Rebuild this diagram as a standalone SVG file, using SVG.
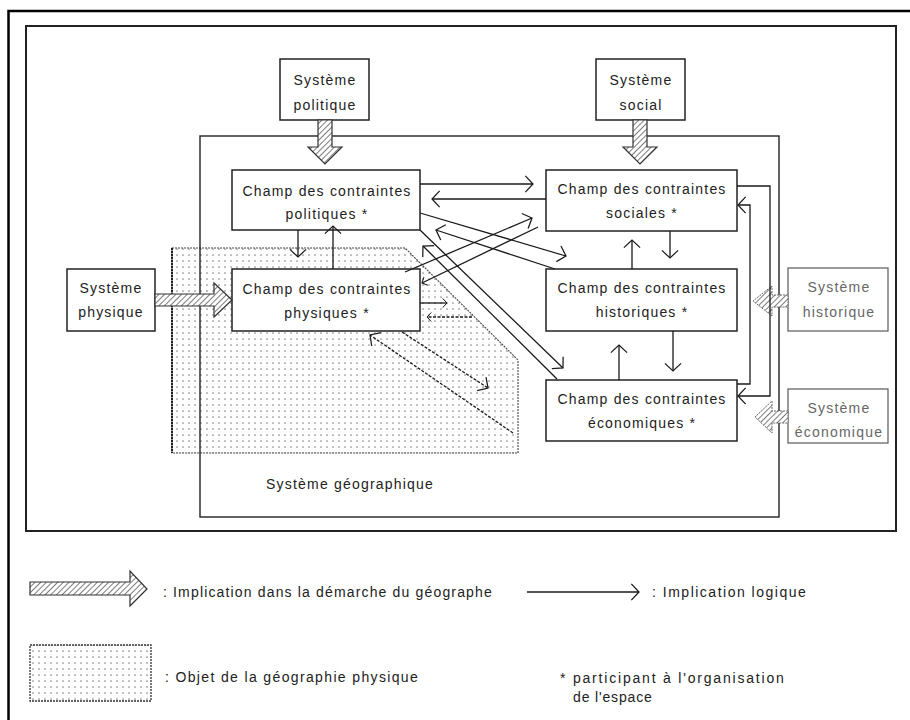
<svg xmlns="http://www.w3.org/2000/svg" width="910" height="720" viewBox="0 0 910 720">
<defs>
<style>
.box{fill:#fff;stroke:#222;stroke-width:1.5}
.gbox{fill:#fff;stroke:#666;stroke-width:1.3}
.t{font-family:"Liberation Sans","DejaVu Sans",sans-serif;font-size:14px;letter-spacing:1.2px;fill:#222;text-anchor:middle}
.tg{fill:#666}
.tl{text-anchor:start}
.c{fill:none;stroke:#1a1a1a;stroke-width:1.3}
.cd{stroke-dasharray:3 1.5}
.ha{fill:url(#hatch);stroke:#333;stroke-width:1.2}
.hag{fill:url(#hatch);stroke:#666;stroke-width:1;stroke-dasharray:2 1}
</style>
<pattern id="hatch" width="4" height="4" patternUnits="userSpaceOnUse" patternTransform="rotate(45)">
<rect width="4" height="4" fill="#fff"/>
<line x1="0" y1="0" x2="0" y2="4" stroke="#444" stroke-width="1.4"/>
</pattern>
<pattern id="dots" width="6" height="6" patternUnits="userSpaceOnUse">
<rect width="6" height="6" fill="#fff"/>
<circle cx="3" cy="3" r="0.85" fill="#888"/>
</pattern>
<marker id="ah" viewBox="0 0 10 20" refX="9.5" refY="10" markerWidth="10" markerHeight="18" markerUnits="userSpaceOnUse" orient="auto">
<path d="M1,1 L9.5,10 L1,19" fill="none" stroke="#1a1a1a" stroke-width="1.4"/>
</marker>
<marker id="ahs" viewBox="0 0 10 20" refX="9.5" refY="10" markerWidth="6" markerHeight="10" markerUnits="userSpaceOnUse" orient="auto">
<path d="M1,1 L9.5,10 L1,19" fill="none" stroke="#1a1a1a" stroke-width="2"/>
</marker>
</defs>

<rect x="8.5" y="11" width="910" height="720" fill="#fff" stroke="#000" stroke-width="2.5"/>
<rect x="26" y="26" width="870" height="505" fill="none" stroke="#222" stroke-width="2"/>

<g id="objet-geographie-physique">
<polygon points="172,248 405,248 518,360 518,453 172,453" fill="url(#dots)" stroke="#444" stroke-width="1.1" stroke-dasharray="2 1"/>
<line x1="172" y1="248" x2="172" y2="453" stroke="#222" stroke-width="2" stroke-dasharray="2 1"/>
</g>

<g id="systeme-geographique">
<rect x="200" y="136" width="579" height="381" fill="none" stroke="#222" stroke-width="1.4"/>
<text class="t" x="350" y="489">Système géographique</text>
</g>

<g id="systeme-politique">
<rect class="box" x="280" y="59" width="89" height="61"/>
<text class="t" x="325" y="85">Système</text>
<text class="t" x="325" y="110">politique</text>
</g>
<g id="systeme-social">
<rect class="box" x="596" y="59" width="89" height="61"/>
<text class="t" x="641" y="85">Système</text>
<text class="t" x="641" y="110">social</text>
</g>
<g id="systeme-physique">
<rect class="box" x="67" y="269" width="88" height="62"/>
<text class="t" x="111" y="293">Système</text>
<text class="t" x="111" y="317">physique</text>
</g>
<g id="systeme-historique">
<rect class="gbox" x="788" y="268" width="100" height="63"/>
<text class="t tg" x="839" y="292">Système</text>
<text class="t tg" x="839" y="317">historique</text>
</g>
<g id="systeme-economique">
<rect class="gbox" x="788" y="389" width="100" height="54"/>
<text class="t tg" x="839" y="413">Système</text>
<text class="t tg" x="839" y="437">économique</text>
</g>

<g id="champ-politiques">
<rect class="box" x="232" y="170" width="188" height="60"/>
<text class="t" x="327" y="196">Champ des contraintes</text>
<text class="t" x="327" y="219">politiques *</text>
</g>
<g id="champ-physiques">
<rect class="box" x="232" y="269" width="188" height="62"/>
<text class="t" x="327" y="294">Champ des contraintes</text>
<text class="t" x="327" y="318">physiques *</text>
</g>
<g id="champ-sociales">
<rect class="box" x="546" y="170" width="191" height="61"/>
<text class="t" x="642" y="194">Champ des contraintes</text>
<text class="t" x="642" y="218">sociales *</text>
</g>
<g id="champ-historiques">
<rect class="box" x="546" y="269" width="191" height="62"/>
<text class="t" x="642" y="293">Champ des contraintes</text>
<text class="t" x="642" y="317">historiques *</text>
</g>
<g id="champ-economiques">
<rect class="box" x="546" y="380" width="191" height="61"/>
<text class="t" x="642" y="404">Champ des contraintes</text>
<text class="t" x="642" y="428">économiques *</text>
</g>

<g id="implications-demarche">
<polygon class="ha" points="318,120 332,120 332,147 342,147 325,164 308,147 318,147"/>
<polygon class="ha" points="633,120 647,120 647,147 657,147 640,164 623,147 633,147"/>
<polygon class="ha" points="155,294 214,294 214,283 232,300 214,317 214,306 155,306"/>
<polygon class="hag" points="788,295 772,295 772,286 753,301 772,316 772,307 788,307"/>
<polygon class="hag" points="788,411 772,411 772,401 755,417 772,433 772,423 788,423"/>
</g>

<g id="connecteurs">
<path class="c" d="M420,184 L533,184" marker-end="url(#ah)"/>
<path class="c" d="M546,199 L432,199" marker-end="url(#ah)"/>
<path class="c" d="M420,213 L566,256" marker-end="url(#ah)"/>
<path class="c" d="M555,269 L436,230" marker-end="url(#ah)"/>
<path class="c" d="M405,272 L532,218" marker-end="url(#ah)"/>
<path class="c" d="M538,227 L422,283" marker-end="url(#ahs)"/>
<path class="c" d="M420,230 L563,368" marker-end="url(#ah)"/>
<path class="c" d="M557,379 L423,246" marker-end="url(#ah)"/>
<path class="c" d="M420,303 L447,303" marker-end="url(#ahs)"/>
<path class="c cd" d="M472,317 L427,317" marker-end="url(#ahs)"/>
<path class="c cd" d="M402,332 L488,388" marker-end="url(#ah)"/>
<path class="c cd" d="M513,433 L370,335" marker-end="url(#ah)"/>
<path class="c" d="M298,230 L298,257" marker-end="url(#ah)"/>
<path class="c" d="M333,269 L333,226" marker-end="url(#ah)"/>
<path class="c" d="M632,269 L632,240" marker-end="url(#ah)"/>
<path class="c" d="M670,231 L670,258" marker-end="url(#ah)"/>
<path class="c" d="M619,380 L619,345" marker-end="url(#ah)"/>
<path class="c" d="M673,331 L673,371" marker-end="url(#ah)"/>
<path class="c" d="M737,186 L770,186 L770,396 L738,396" marker-end="url(#ah)"/>
<path class="c" d="M737,384 L750,384 L750,205 L738,205" marker-end="url(#ah)"/>
</g>

<g id="legende">
<polygon class="ha" points="30,582 130,582 130,571 147,589 130,606 130,595 30,595"/>
<text class="t tl" x="163" y="597" textLength="330">: Implication dans la démarche du géographe</text>
<path class="c" d="M527,592 L639,592" marker-end="url(#ah)"/>
<text class="t tl" x="652" y="597" textLength="155">: Implication logique</text>
<rect x="30" y="645" width="121" height="56" fill="url(#dots)" stroke="#333" stroke-width="1.3" stroke-dasharray="2 1"/>
<text class="t tl" x="165" y="682" textLength="254">: Objet de la géographie physique</text>
<text class="t tl" x="560" y="683" textLength="225">* participant à l'organisation</text>
<text class="t tl" x="573" y="702" textLength="80">de l'espace</text>
</g>
</svg>
